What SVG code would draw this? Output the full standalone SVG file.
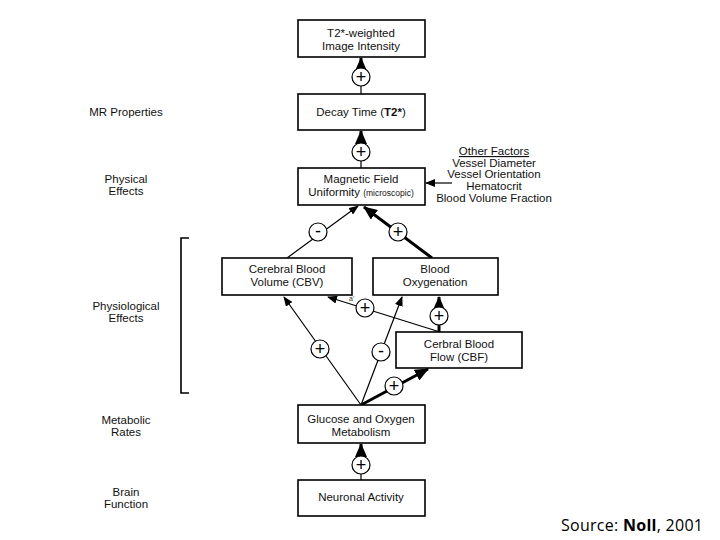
<svg xmlns="http://www.w3.org/2000/svg" width="720" height="540" viewBox="0 0 720 540">
<style>
.box{fill:#fff;stroke:#000;stroke-width:1.6}
.t{font-family:"Liberation Sans",Arial,sans-serif;font-size:11.5px;fill:#111;text-anchor:middle}
.lbl{font-family:"Liberation Sans",Arial,sans-serif;font-size:11.5px;fill:#111;text-anchor:middle}
.sm{font-size:8.5px}
.c{fill:#fff;stroke:#000;stroke-width:1.2}
.sign{font-family:"Liberation Sans",Arial,sans-serif;font-size:18px;fill:#000;text-anchor:middle}
.thin{stroke:#000;stroke-width:1.2;fill:none}
.thick{stroke:#000;stroke-width:3;fill:none}
</style>
<defs>
<marker id="ah" markerUnits="userSpaceOnUse" markerWidth="10" markerHeight="8" refX="9" refY="4" orient="auto"><path d="M0,0 L10,4 L0,8 z" fill="#000"/></marker>
<marker id="ahb" markerUnits="userSpaceOnUse" markerWidth="14" markerHeight="12" refX="13" refY="6" orient="auto"><path d="M0,0 L14,6 L0,12 z" fill="#000"/></marker>
</defs>
<rect width="720" height="540" fill="#fff"/>

<g id="labels">
<text class="lbl" x="126" y="116">MR Properties</text>
<text class="lbl" x="126" y="183">Physical</text>
<text class="lbl" x="126" y="195">Effects</text>
<text class="lbl" x="126" y="310">Physiological</text>
<text class="lbl" x="126" y="322">Effects</text>
<text class="lbl" x="126" y="424">Metabolic</text>
<text class="lbl" x="126" y="436">Rates</text>
<text class="lbl" x="126" y="496">Brain</text>
<text class="lbl" x="126" y="508">Function</text>
<path d="M189,238 H181 V393 H189" fill="none" stroke="#000" stroke-width="1.6"/>
</g>

<g id="connectors">
<line class="thin" x1="361" y1="86" x2="361" y2="94"/>
<line class="thick" x1="361" y1="68" x2="361" y2="58" marker-end="url(#ahb)"/>
<line class="thin" x1="361" y1="161" x2="361" y2="168"/>
<line class="thick" x1="361" y1="143" x2="361" y2="131" marker-end="url(#ahb)"/>
<line class="thin" x1="452" y1="183" x2="426" y2="183" marker-end="url(#ah)"/>
<line class="thin" x1="287" y1="258" x2="358" y2="206" marker-end="url(#ah)"/>
<line class="thick" x1="432" y1="258" x2="364" y2="207" marker-end="url(#ahb)"/>
<line class="thin" x1="361" y1="405" x2="284" y2="297" marker-end="url(#ah)"/>
<line class="thin" x1="361" y1="405" x2="402" y2="297" marker-end="url(#ah)"/>
<line class="thick" x1="361" y1="405" x2="428" y2="369" marker-end="url(#ahb)"/>
<line class="thin" x1="440" y1="332" x2="328" y2="297" marker-end="url(#ah)"/>
<line class="thick" x1="439" y1="332" x2="439" y2="297" marker-end="url(#ahb)"/>
<line class="thin" x1="361" y1="474" x2="361" y2="480"/>
<line class="thick" x1="361" y1="456" x2="361" y2="444" marker-end="url(#ahb)"/>
<text x="349" y="301" font-family="Liberation Sans,Arial,sans-serif" font-size="7" fill="#333">a'</text>
</g>

<g id="signs">
<circle class="c" cx="361" cy="77" r="9"/><text class="sign" x="361" y="83">+</text>
<circle class="c" cx="361" cy="152" r="9"/><text class="sign" x="361" y="158">+</text>
<circle class="c" cx="318" cy="232" r="9"/><text class="sign" x="318" y="237">-</text>
<circle class="c" cx="398" cy="232" r="9"/><text class="sign" x="398" y="238">+</text>
<circle class="c" cx="365" cy="308" r="9"/><text class="sign" x="365" y="314">+</text>
<circle class="c" cx="439" cy="316" r="9"/><text class="sign" x="439" y="322">+</text>
<circle class="c" cx="320" cy="349" r="9"/><text class="sign" x="320" y="355">+</text>
<circle class="c" cx="381" cy="352" r="9"/><text class="sign" x="381" y="357">-</text>
<circle class="c" cx="394" cy="386" r="9"/><text class="sign" x="394" y="392">+</text>
<circle class="c" cx="361" cy="465" r="9"/><text class="sign" x="361" y="471">+</text>
</g>

<g id="n-t2">
<rect class="box" x="298" y="20" width="127" height="37"/>
<text class="t" x="361" y="37">T2*-weighted</text>
<text class="t" x="361" y="50">Image Intensity</text>
</g>
<g id="n-decay">
<rect class="box" x="298" y="94" width="127" height="36"/>
<text class="t" x="361" y="116">Decay Time (<tspan font-weight="bold">T2*</tspan>)</text>
</g>
<g id="n-field">
<rect class="box" x="298" y="168" width="127" height="37"/>
<text class="t" x="361" y="183">Magnetic Field</text>
<text class="t" x="361" y="196">Uniformity <tspan class="sm">(microscopic)</tspan></text>
</g>
<g id="n-other">
<text class="t" x="494" y="155" text-decoration="underline">Other Factors</text>
<text class="t" x="494" y="167">Vessel Diameter</text>
<text class="t" x="494" y="178">Vessel Orientation</text>
<text class="t" x="494" y="190">Hematocrit</text>
<text class="t" x="494" y="202">Blood Volume Fraction</text>
</g>
<g id="n-cbv">
<rect class="box" x="222" y="258" width="130" height="37"/>
<text class="t" x="287" y="273">Cerebral Blood</text>
<text class="t" x="287" y="286">Volume (CBV)</text>
</g>
<g id="n-oxy">
<rect class="box" x="373" y="258" width="125" height="37"/>
<text class="t" x="435" y="273">Blood</text>
<text class="t" x="435" y="286">Oxygenation</text>
</g>
<g id="n-cbf">
<rect class="box" x="396" y="332" width="126" height="36"/>
<text class="t" x="459" y="348">Cerbral Blood</text>
<text class="t" x="459" y="361">Flow (CBF)</text>
</g>
<g id="n-glucose">
<rect class="box" x="298" y="405" width="127" height="38"/>
<text class="t" x="361" y="423">Glucose and Oxygen</text>
<text class="t" x="361" y="436">Metabolism</text>
</g>
<g id="n-neuronal">
<rect class="box" x="298" y="480" width="127" height="36"/>
<text class="t" x="361" y="501">Neuronal Activity</text>
</g>

<text x="561" y="531" font-family="'Open Sans','Noto Sans',sans-serif" font-size="16" textLength="142" fill="#000">Source: <tspan font-weight="bold">Noll</tspan>, 2001</text>
</svg>
